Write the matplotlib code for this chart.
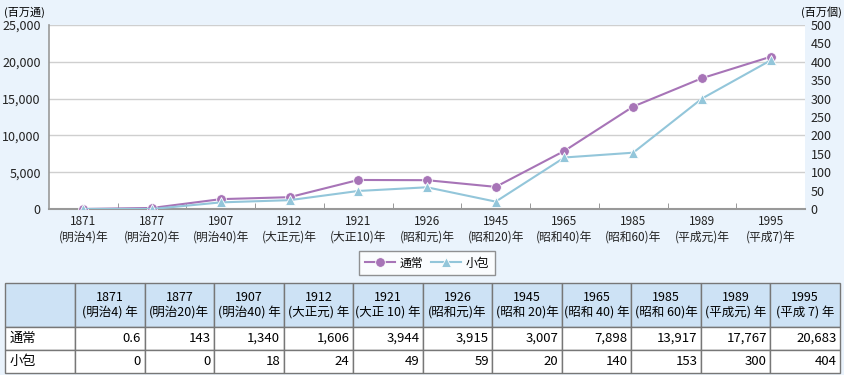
import numpy as np
import matplotlib.pyplot as plt

plt.rcParams['font.family'] = ['Noto Sans CJK JP', 'DejaVu Sans']

years = ['1871', '1877', '1907', '1912', '1921', '1926', '1945', '1965', '1985', '1989', '1995']
eras = ['(明治4)年', '(明治20)年', '(明治40)年', '(大正元)年', '(大正10)年', '(昭和元)年',
        '(昭和20)年', '(昭和40)年', '(昭和60)年', '(平成元)年', '(平成7)年']
table_eras = ['(明治4) 年', '(明治20)年', '(明治40) 年', '(大正元) 年', '(大正 10) 年', '(昭和元)年',
              '(昭和 20)年', '(昭和 40) 年', '(昭和 60)年', '(平成元) 年', '(平成 7) 年']
tsujo = [0.6, 143, 1340, 1606, 3944, 3915, 3007, 7898, 13917, 17767, 20683]
kozutsumi = [0, 0, 18, 24, 49, 59, 20, 140, 153, 300, 404]
tsujo_text = ['0.6', '143', '1,340', '1,606', '3,944', '3,915', '3,007', '7,898', '13,917', '17,767', '20,683']
kozutsumi_text = ['0', '0', '18', '24', '49', '59', '20', '140', '153', '300', '404']

bg = '#eaf3fc'
purple = '#a774b7'
blue = '#93c6da'

fig = plt.figure(figsize=(8.45, 3.75), dpi=100, facecolor=bg)
ax = fig.add_axes([49 / 845, 1 - 209 / 375, 756 / 845, 184 / 375])
ax2 = ax.twinx()

x = np.arange(len(years))
l1, = ax.plot(x, tsujo, color=purple, lw=1.5, marker='o', ms=7,
              mec='white', mew=0.6, label='通常', zorder=3)
l2, = ax2.plot(x, kozutsumi, color=blue, lw=1.5, marker='^', ms=7.5,
               mec='white', mew=0.6, label='小包', zorder=3)

ax.set_xlim(-0.5, len(years) - 0.5)
ax.set_ylim(0, 25000)
ax2.set_ylim(0, 500)
ax.set_yticks(np.arange(0, 25001, 5000))
ax.set_yticklabels([f'{v:,}' for v in range(0, 25001, 5000)])
ax2.set_yticks(np.arange(0, 501, 50))
ax.set_xticks(x)
ax.set_xticklabels([f'{y}\n{e}' for y, e in zip(years, eras)], fontsize=8.5, linespacing=1.25)
ax.set_xticks(np.arange(0.5, len(years) - 1, 1), minor=True)
ax.tick_params(axis='x', which='major', length=0, pad=4, colors='#222222')
ax.tick_params(axis='x', which='minor', length=4, direction='in', color='#888888')
ax.tick_params(axis='y', length=0, labelsize=9, pad=6, colors='#222222')
ax2.tick_params(axis='y', length=0, labelsize=9, pad=4, colors='#222222')

ax.grid(axis='y', color='#cfcfcf', lw=1)
ax.set_axisbelow(True)
ax.set_facecolor('white')
for a in (ax, ax2):
    a.spines['top'].set_visible(False)
    a.spines['right'].set_visible(False)
ax2.spines['left'].set_visible(False)
ax2.spines['bottom'].set_visible(False)
ax.spines['left'].set_color('#999999')
ax.spines['bottom'].set_color('#999999')
ax.spines['bottom'].set_linewidth(1.5)
ax.spines['left'].set_linewidth(1.2)

fig.text(4 / 845, 1 - 12 / 375, '(百万通)', fontsize=8, va='center', ha='left')
fig.text(842 / 845, 1 - 12 / 375, '(百万個)', fontsize=8, va='center', ha='right')

leg = fig.legend(handles=[l1, l2], loc='center', bbox_to_anchor=(427 / 845, 1 - 263 / 375),
                 ncol=2, fontsize=8.5, frameon=True, fancybox=False, edgecolor='#777777',
                 handlelength=2.6, columnspacing=0.6, handletextpad=0.4, borderpad=0.45)
leg.get_frame().set_linewidth(1)

# data table
tax = fig.add_axes([5 / 845, 1 - 373 / 375, 835 / 845, 90 / 375])
tax.axis('off')
cells = [[f'{y}\n{e}' for y, e in zip(years, table_eras)], tsujo_text, kozutsumi_text]
row_labels = ['', '通常', '小包']
cell_text = [[r] + c for r, c in zip(row_labels, cells)]
col_w = [70] + [69.5] * len(years)
tbl = tax.table(cellText=cell_text, colWidths=col_w, bbox=[0, 0, 1, 1])
tbl.auto_set_font_size(False)
heights = [44, 22, 23]
for (r, c), cell in tbl.get_celld().items():
    cell.set_height(heights[r])
    cell.set_edgecolor('#777777')
    cell.set_linewidth(1)
    txt = cell.get_text()
    if r == 0:
        cell.set_facecolor('#cde2f5')
        txt.set_linespacing(1.2)
        txt.set_fontsize(9)
        loc = 'center'
    else:
        cell.set_facecolor('white')
        txt.set_fontsize(9.5)
        loc = 'left' if c == 0 else 'right'
        cell.PAD = 0.06 if c == 0 else 0.05
    cell._loc = loc
    txt.set_horizontalalignment(loc)

fig.savefig('out.png', dpi=100, facecolor=bg)
